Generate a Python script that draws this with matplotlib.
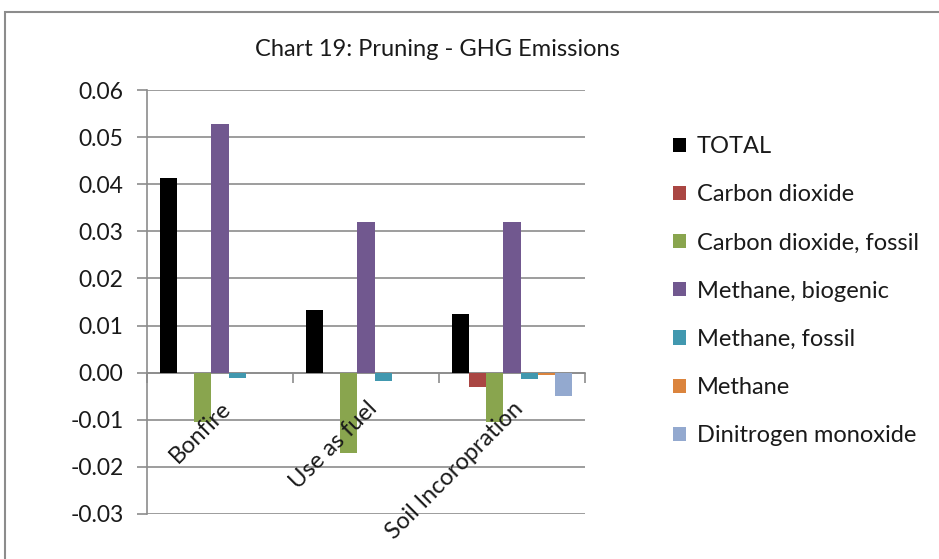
import matplotlib
matplotlib.use("Agg")
import matplotlib.pyplot as plt
from matplotlib.patches import Rectangle
import numpy as np

plt.rcParams['font.family'] = ['Lato', 'DejaVu Sans']

categories = ["Bonfire", "Use as fuel", "Soil Incoropration"]
series_names = ["TOTAL", "Carbon dioxide", "Carbon dioxide, fossil",
                "Methane, biogenic", "Methane, fossil", "Methane",
                "Dinitrogen monoxide"]
total = [0.0413, 0.0133, 0.0125]
co2 = [0.0, 0.0, -0.0031]
co2_fossil = [-0.0104, -0.0171, -0.0104]
ch4_biogenic = [0.0527, 0.0320, 0.0320]
ch4_fossil = [-0.0012, -0.0018, -0.0013]
ch4 = [0.0, 0.0, -0.0004]
n2o = [0.0, 0.0, -0.0050]
colors = ["#000000", "#AA4643", "#89A54E", "#71588F", "#4198AF", "#DB843D", "#93A9CF"]

values = [total, co2, co2_fossil, ch4_biogenic, ch4_fossil, ch4, n2o]

fig = plt.figure(figsize=(9.39, 5.59), dpi=100)
ax = fig.add_axes([147/939, 1 - 514/559, 438/939, 424/559])

# chart frame
fig.patches.append(Rectangle((5/939, -0.2), 1.2, 1.2 - 12/559,
                             transform=fig.transFigure, fill=False,
                             edgecolor="#8c8c8c", linewidth=1.5))

n = len(values)
w = 1 / (n + 1.5)
x = np.arange(len(categories))
for i, (vals, name, c) in enumerate(zip(values, series_names, colors)):
    ax.bar(x + (i - (n - 1) / 2) * w, vals, w, color=c, label=name,
           linewidth=0, zorder=3)

ax.set_xlim(-0.5, 2.5)
ax.set_ylim(-0.03, 0.06)
ax.set_yticks(np.arange(-0.03, 0.0601, 0.01))
ax.set_yticklabels(["%.2f" % v for v in np.arange(-0.03, 0.0601, 0.01)])
ax.yaxis.grid(True, color="#8c8c8c", linewidth=1.2, zorder=0)
ax.set_axisbelow(True)

for s in ["top", "right"]:
    ax.spines[s].set_visible(False)
ax.spines["left"].set_color("#8c8c8c")
ax.spines["left"].set_linewidth(1.2)
ax.spines["bottom"].set_position(("data", 0))
ax.spines["bottom"].set_color("#8c8c8c")
ax.spines["bottom"].set_linewidth(1.2)

ax.set_xticks([-0.5, 0.5, 1.5, 2.5])
ax.set_xticklabels([])
ax.tick_params(axis="x", direction="out", length=7, color="#8c8c8c", width=1.2)
ax.tick_params(axis="y", direction="out", length=7, color="#8c8c8c", width=1.2,
               labelsize=16.5, pad=10, labelcolor="#1a1a1a")

for xi, lab in zip(x, categories):
    ax.annotate(lab, xy=(xi, 0), xytext=(0, -18), textcoords="offset points",
                rotation=45, rotation_mode="anchor", ha="right", va="top",
                fontsize=17, color="#1a1a1a", zorder=4)

fig.text(437/939, 1 - 50/559, "Chart 19: Pruning - GHG Emissions",
         ha="center", va="center", fontsize=17, color="#1a1a1a")

handles, labels = ax.get_legend_handles_labels()
leg = fig.legend(handles, labels, loc="upper left",
                 bbox_to_anchor=(652/939, 1 - 115/559), frameon=False,
                 fontsize=17, handlelength=0.55, handleheight=0.55,
                 handletextpad=0.45, labelspacing=1.15)
for t in leg.get_texts():
    t.set_color("#1a1a1a")

fig.savefig("out.png", dpi=100)
